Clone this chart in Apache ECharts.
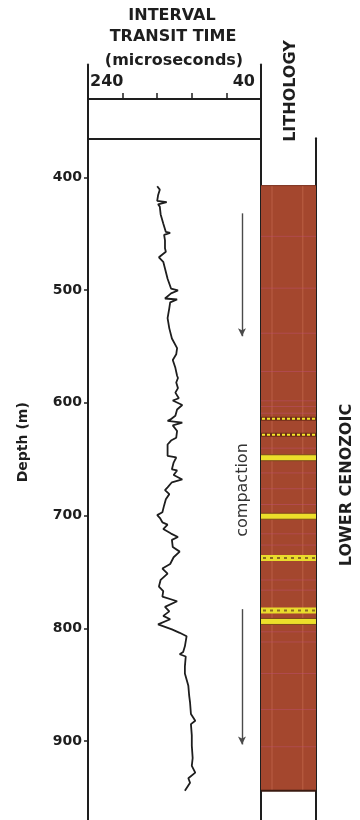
<!DOCTYPE html>
<html>
<head>
<meta charset="utf-8">
<script src="https://cdn.jsdelivr.net/npm/echarts@6/dist/echarts.min.js"></script>
<style>
  html, body { margin: 0; padding: 0; background: #fff; }
  #chart { width: 360px; height: 820px; }
</style>
</head>
<body>
<div id="chart"></div>
<script>
// Depth axis (m) and transit-time scale (microseconds)
const depthTicks = [400, 500, 600, 700, 800, 900];
const timeTicks = [240, 200, 160, 120, 80, 40];
const timeTickLabels = ['240', '', '', '', '', '40'];

// Interval transit time log: depth (m) and transit time (microseconds)
const logDepth = [
  408, 411, 416, 421, 422, 424, 426, 433, 441, 448.5, 449.3, 451, 456, 463, 466, 471, 475, 481, 490, 498.7,
  500.4, 503, 507.5, 508.4, 511, 516, 525, 534, 543, 551.5, 557, 562, 569, 576, 578, 582, 587, 591, 596, 598,
  602, 606, 611.5, 615, 616, 617.6, 620, 625, 631, 633.5, 637, 647, 648.5, 653, 659, 660, 664, 668, 670.5, 675,
  677.5, 681, 685.5, 691, 697, 699.6, 702, 706, 708, 712, 716, 719, 721.6, 728, 732, 737, 743, 747, 751.5, 757,
  763, 767, 772, 776, 781, 785, 789, 792, 796.5, 801, 804, 807, 816, 821, 823, 825, 834, 840, 851, 860,
  866, 876, 882, 885, 895, 904, 915, 922, 928, 933, 937, 944
];
const logTime = [
  160, 157, 159, 160, 149, 159, 157, 156, 153, 150, 145, 152, 151, 151, 150, 158, 153, 151, 148, 144,
  136, 144, 151, 137, 145, 146, 148, 146, 143, 137, 138, 142, 139, 137, 136, 138, 136, 139, 135, 142,
  131, 137, 139, 145, 148, 131, 142, 137, 138, 144, 148, 148, 138, 141, 143, 137, 141, 131, 143, 148,
  151, 146, 150, 152, 154, 160, 157, 154, 148, 153, 144, 136, 143, 142, 134, 141, 145, 154, 148, 156,
  158, 153, 154, 137, 151, 146, 153, 145, 159, 143, 134, 126, 128, 130, 134, 127, 128, 128, 124, 123,
  122, 121, 116, 121, 120, 120, 119, 120, 116, 124, 122, 128
];

// Lithology column: top and base of the shale body (m)
const lithoInterval = [407, 944];
// Sand stringers inside the shale (m) and their drawing style
const bedDepth = [614, 628, 648.5, 700.4, 737.4, 784, 793.8];
const bedKind = ['thin', 'thin', 'bed', 'bed', 'dash', 'dash', 'bed'];
// Faint laminae in the shale (m)
const streakDepth = [452, 498, 538, 572, 598, 603, 609, 640, 662, 676, 690, 716, 726, 757, 766, 803, 812, 840, 872, 905];

// Compaction trend arrows (m), drawn at a fixed transit time position
const compactionArrows = [[432, 541], [783, 903]];
const arrowTime = 62;

const FONT = 'DejaVu Sans';
const INK = '#1e1e1e';

const chart = echarts.init(document.getElementById('chart'), null, { renderer: 'canvas' });

const option = {
  animation: false,
  backgroundColor: '#ffffff',
  grid: [
    { left: 88, top: 64.5, width: 173, height: 760.5 },   // transit time track
    { left: 88, top: 99, width: 173, height: 40 },        // track header scale
    { left: 261, top: 138.3, width: 55, height: 686.7 }    // lithology column
  ],
  xAxis: [
    { gridIndex: 0, type: 'value', min: 40, max: 240, inverse: true, show: false },
    {
      gridIndex: 1, type: 'value', position: 'top', min: 40, max: 240, interval: 40, inverse: true,
      axisLine: { show: true, onZero: false, lineStyle: { color: INK, width: 2 } },
      axisTick: { show: true, inside: false, length: 6, lineStyle: { color: INK, width: 1.5 } },
      axisLabel: {
        show: true, margin: 9, color: INK, fontFamily: FONT, fontWeight: 'bold', fontSize: 16,
        padding: [0, 6, 0, 2],
        alignMinLabel: 'right', alignMaxLabel: 'left',
        formatter: v => timeTickLabels[timeTicks.indexOf(v)] || ''
      },
      splitLine: { show: false }
    },
    {
      gridIndex: 1, type: 'value', position: 'bottom', min: 40, max: 240, inverse: true,
      axisLine: { show: true, onZero: false, lineStyle: { color: INK, width: 2 } },
      axisTick: { show: false }, axisLabel: { show: false }, splitLine: { show: false }
    },
    { gridIndex: 2, type: 'value', min: 0, max: 1, show: false }
  ],
  yAxis: [
    {
      gridIndex: 0, type: 'value', position: 'left', inverse: true, min: 300, max: 970, interval: 100,
      axisLine: { show: true, onZero: false, lineStyle: { color: INK, width: 2 } },
      axisTick: { show: true, length: 4, customValues: depthTicks, lineStyle: { color: INK, width: 1.5 } },
      axisLabel: {
        show: true, margin: 6, customValues: depthTicks, color: INK,
        fontFamily: FONT, fontWeight: 'bold', fontSize: 14,
        formatter: v => depthTicks.indexOf(v) >= 0 ? String(v) : ''
      },
      splitLine: { show: false },
      name: 'Depth (m)', nameLocation: 'middle', nameRotate: 90, nameGap: 58,
      nameTextStyle: { color: INK, fontFamily: FONT, fontWeight: 'bold', fontSize: 14 }
    },
    {
      gridIndex: 0, type: 'value', position: 'right', inverse: true, min: 300, max: 970,
      axisLine: { show: true, onZero: false, lineStyle: { color: INK, width: 2 } },
      axisTick: { show: false }, axisLabel: { show: false }, splitLine: { show: false }
    },
    { gridIndex: 1, type: 'value', min: 0, max: 1, show: false },
    {
      gridIndex: 2, type: 'value', position: 'right', inverse: true, min: 365, max: 970,
      axisLine: { show: true, onZero: false, lineStyle: { color: INK, width: 2 } },
      axisTick: { show: false }, axisLabel: { show: false }, splitLine: { show: false }
    }
  ],
  series: [
    {
      type: 'line', xAxisIndex: 0, yAxisIndex: 0,
      data: logDepth.map((d, i) => [logTime[i], d]),
      symbol: 'none', showSymbol: false, silent: true,
      lineStyle: { color: INK, width: 1.8 },
      markLine: {
        silent: true, symbol: ['none', 'arrow'], symbolSize: [6, 8],
        label: { show: false },
        lineStyle: { color: '#4a4a4a', width: 1.4, type: 'solid' },
        data: compactionArrows.map(a => [{ coord: [arrowTime, a[0]] }, { coord: [arrowTime, a[1]] }])
      }
    },
    {
      // shale body of the lithology column
      type: 'custom', xAxisIndex: 3, yAxisIndex: 3, silent: true,
      data: [lithoInterval],
      renderItem: (params, api) => {
        const p0 = api.coord([0, api.value(0)]);
        const p1 = api.coord([1, api.value(1)]);
        const w = p1[0] - p0[0];
        const h = p1[1] - p0[1];
        return {
          type: 'group',
          children: [
            { type: 'rect', shape: { x: p0[0], y: p0[1], width: w, height: h }, style: { fill: '#a4472e' } },
            { type: 'line', shape: { x1: p0[0] + w * 0.2, y1: p0[1], x2: p0[0] + w * 0.2, y2: p1[1] },
              style: { stroke: 'rgba(230,140,110,0.35)', lineWidth: 1 } },
            { type: 'line', shape: { x1: p0[0] + w * 0.76, y1: p0[1], x2: p0[0] + w * 0.76, y2: p1[1] },
              style: { stroke: 'rgba(230,140,110,0.35)', lineWidth: 1 } },
            { type: 'line', shape: { x1: p0[0], y1: p0[1], x2: p1[0], y2: p0[1] },
              style: { stroke: '#7a2e1c', lineWidth: 1 } },
            { type: 'line', shape: { x1: p0[0], y1: p1[1], x2: p1[0], y2: p1[1] },
              style: { stroke: '#3a1a10', lineWidth: 2 } }
          ]
        };
      }
    },
    {
      // faint laminae
      type: 'custom', xAxisIndex: 3, yAxisIndex: 3, silent: true,
      data: streakDepth.map(d => [0, d]),
      encode: { x: 0, y: 1 },
      renderItem: (params, api) => {
        const a = api.coord([0, api.value(1)]);
        const b = api.coord([1, api.value(1)]);
        return { type: 'line', shape: { x1: a[0], y1: a[1], x2: b[0], y2: b[1] },
          style: { stroke: 'rgba(190,80,120,0.45)', lineWidth: 1 } };
      }
    },
    {
      // sand stringers
      type: 'custom', xAxisIndex: 3, yAxisIndex: 3, silent: true,
      data: bedDepth.map(d => [0, d]),
      encode: { x: 0, y: 1 },
      renderItem: (params, api) => {
        const a = api.coord([0, api.value(1)]);
        const b = api.coord([1, api.value(1)]);
        const w = b[0] - a[0];
        const kind = bedKind[params.dataIndex];
        if (kind === 'thin') {
          return { type: 'group', children: [
            { type: 'rect', shape: { x: a[0], y: a[1] - 2, width: w, height: 4 }, style: { fill: '#6e2c18' } },
            { type: 'line', shape: { x1: a[0] + 1, y1: a[1], x2: b[0] - 1, y2: a[1] },
              style: { stroke: '#f4e62a', lineWidth: 2, lineDash: [3, 2] } }
          ] };
        }
        if (kind === 'dash') {
          return { type: 'group', children: [
            { type: 'rect', shape: { x: a[0], y: a[1] - 3, width: w, height: 6 }, style: { fill: '#e9dc2c' } },
            { type: 'line', shape: { x1: a[0] + 2, y1: a[1], x2: b[0], y2: a[1] },
              style: { stroke: '#8c6a22', lineWidth: 2, lineDash: [3, 4] } }
          ] };
        }
        return { type: 'group', children: [
          { type: 'rect', shape: { x: a[0], y: a[1] - 3, width: w, height: 6 }, style: { fill: '#ecdf2a' } },
          { type: 'line', shape: { x1: a[0], y1: a[1] - 3, x2: b[0], y2: a[1] - 3 },
            style: { stroke: '#7c4a1c', lineWidth: 1 } },
          { type: 'line', shape: { x1: a[0], y1: a[1] + 3, x2: b[0], y2: a[1] + 3 },
            style: { stroke: '#7c4a1c', lineWidth: 1 } }
        ] };
      }
    }
  ],
  graphic: [
    { type: 'text', x: 172, y: 16, silent: true,
      style: { text: 'INTERVAL', fill: INK, font: 'bold 16px "DejaVu Sans"', align: 'center', verticalAlign: 'middle', textAlign: 'center', textVerticalAlign: 'middle' } },
    { type: 'text', x: 173, y: 37, silent: true,
      style: { text: 'TRANSIT TIME', fill: INK, font: 'bold 16px "DejaVu Sans"', align: 'center', verticalAlign: 'middle', textAlign: 'center', textVerticalAlign: 'middle' } },
    { type: 'text', x: 174, y: 61, silent: true,
      style: { text: '(microseconds)', fill: INK, font: 'bold 16px "DejaVu Sans"', align: 'center', verticalAlign: 'middle', textAlign: 'center', textVerticalAlign: 'middle' } },
    { type: 'text', x: 291, y: 91, rotation: Math.PI / 2, silent: true,
      style: { text: 'LITHOLOGY', fill: INK, font: 'bold 16px "DejaVu Sans"', align: 'center', verticalAlign: 'middle', textAlign: 'center', textVerticalAlign: 'middle' } },
    { type: 'text', x: 347, y: 485, rotation: Math.PI / 2, silent: true,
      style: { text: 'LOWER CENOZOIC', fill: INK, font: 'bold 16px "DejaVu Sans"', align: 'center', verticalAlign: 'middle', textAlign: 'center', textVerticalAlign: 'middle' } },
    { type: 'text', x: 243, y: 490, rotation: Math.PI / 2, silent: true,
      style: { text: 'compaction', fill: '#333', font: '16px "DejaVu Sans"', align: 'center', verticalAlign: 'middle', textAlign: 'center', textVerticalAlign: 'middle' } }
  ]
};

chart.setOption(option);
</script>
</body>
</html>
